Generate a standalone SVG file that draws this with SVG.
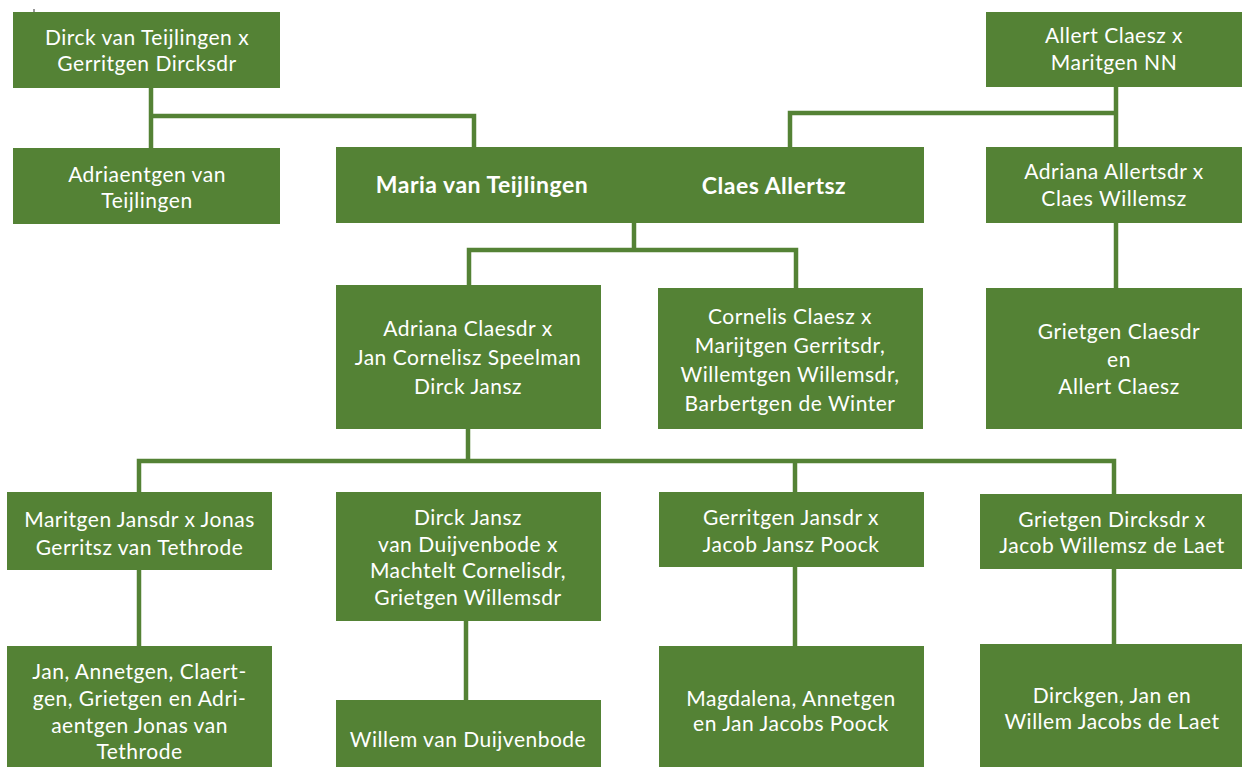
<svg xmlns="http://www.w3.org/2000/svg" width="1247" height="767" viewBox="0 0 1247 767">
  <style>
    .box { fill: #548235; }
    .t { font-family: Lato, "Open Sans", "Liberation Sans", sans-serif; font-size: 21px; letter-spacing: 0.5px; fill: #ffffff; text-anchor: middle; }
    .b { font-weight: bold; font-size: 23px; }
    .c { fill: none; stroke: #548235; stroke-width: 4.5; }
  </style>
  <rect width="1247" height="767" fill="#ffffff"/>
  <line x1="34" y1="9" x2="34" y2="14" stroke="#333" stroke-width="1"/>

  <g id="connectors">
    <path class="c" d="M151 88 V149 M151 116 H474 V147"/>
    <path class="c" d="M1116 87 V147 M1116 113 H790 V147"/>
    <path class="c" d="M634 223 V250 M469 285 V250 H796 V288"/>
    <path class="c" d="M1116 223 V288"/>
    <path class="c" d="M468 429 V461 M139 492 V461 H1114 V494 M795 461 V492"/>
    <path class="c" d="M139 570 V646"/>
    <path class="c" d="M466 621 V700"/>
    <path class="c" d="M795 567 V646"/>
    <path class="c" d="M1114 569 V644"/>
  </g>

  <g id="dirck-gerritgen">
    <rect class="box" x="13" y="12" width="267" height="76"/>
    <text class="t" x="147" y="45">Dirck van Teijlingen x</text>
    <text class="t" x="147" y="71">Gerritgen Dircksdr</text>
  </g>
  <g id="adriaentgen">
    <rect class="box" x="13" y="148" width="267" height="76"/>
    <text class="t" x="147" y="182">Adriaentgen van</text>
    <text class="t" x="147" y="208">Teijlingen</text>
  </g>
  <g id="maria">
    <rect class="box" x="336" y="147" width="293" height="76"/>
    <text class="t b" x="482" y="193">Maria van Teijlingen</text>
  </g>
  <g id="claes">
    <rect class="box" x="628" y="147" width="296" height="76"/>
    <text class="t b" x="774" y="194">Claes Allertsz</text>
  </g>
  <g id="allert-maritgen">
    <rect class="box" x="986" y="12" width="256" height="75"/>
    <text class="t" x="1114" y="43">Allert Claesz x</text>
    <text class="t" x="1114" y="70">Maritgen NN</text>
  </g>
  <g id="adriana-allertsdr">
    <rect class="box" x="986" y="147" width="256" height="76"/>
    <text class="t" x="1114" y="179">Adriana Allertsdr x</text>
    <text class="t" x="1114" y="206">Claes Willemsz</text>
  </g>
  <g id="adriana-claesdr">
    <rect class="box" x="336" y="285" width="265" height="144"/>
    <text class="t" x="468" y="336">Adriana Claesdr x</text>
    <text class="t" x="468" y="365">Jan Cornelisz Speelman</text>
    <text class="t" x="468" y="394">Dirck Jansz</text>
  </g>
  <g id="cornelis">
    <rect class="box" x="658" y="288" width="265" height="141"/>
    <text class="t" x="790" y="324">Cornelis Claesz x</text>
    <text class="t" x="790" y="353">Marijtgen Gerritsdr,</text>
    <text class="t" x="790" y="382">Willemtgen Willemsdr,</text>
    <text class="t" x="790" y="411">Barbertgen de Winter</text>
  </g>
  <g id="grietgen-claesdr">
    <rect class="box" x="986" y="288" width="256" height="141"/>
    <text class="t" x="1119" y="339">Grietgen Claesdr</text>
    <text class="t" x="1119" y="367">en</text>
    <text class="t" x="1119" y="394">Allert Claesz</text>
  </g>
  <g id="maritgen-jansdr">
    <rect class="box" x="7" y="492" width="265" height="78"/>
    <text class="t" x="139.5" y="527">Maritgen Jansdr x Jonas</text>
    <text class="t" x="139.5" y="555">Gerritsz van Tethrode</text>
  </g>
  <g id="dirck-jansz">
    <rect class="box" x="336" y="492" width="265" height="129"/>
    <text class="t" x="468" y="525">Dirck Jansz</text>
    <text class="t" x="468" y="552">van Duijvenbode x</text>
    <text class="t" x="468" y="578">Machtelt Cornelisdr,</text>
    <text class="t" x="468" y="605">Grietgen Willemsdr</text>
  </g>
  <g id="gerritgen-jansdr">
    <rect class="box" x="659" y="492" width="265" height="75"/>
    <text class="t" x="791" y="525">Gerritgen Jansdr x</text>
    <text class="t" x="791" y="552">Jacob Jansz Poock</text>
  </g>
  <g id="grietgen-dircksdr">
    <rect class="box" x="980" y="494" width="262" height="75"/>
    <text class="t" x="1112" y="527">Grietgen Dircksdr x</text>
    <text class="t" x="1112" y="553">Jacob Willemsz de Laet</text>
  </g>
  <g id="tethrode-children">
    <rect class="box" x="7" y="646" width="265" height="121"/>
    <text class="t" x="139.5" y="679">Jan, Annetgen, Claert-</text>
    <text class="t" x="139.5" y="706">gen, Grietgen en Adri-</text>
    <text class="t" x="139.5" y="733">aentgen Jonas van</text>
    <text class="t" x="139.5" y="759">Tethrode</text>
  </g>
  <g id="willem">
    <rect class="box" x="336" y="700" width="265" height="67"/>
    <text class="t" x="468" y="747">Willem van Duijvenbode</text>
  </g>
  <g id="poock-children">
    <rect class="box" x="659" y="646" width="265" height="121"/>
    <text class="t" x="791" y="706">Magdalena, Annetgen</text>
    <text class="t" x="791" y="731">en Jan Jacobs Poock</text>
  </g>
  <g id="laet-children">
    <rect class="box" x="980" y="644" width="262" height="123"/>
    <text class="t" x="1112" y="703">Dirckgen, Jan en</text>
    <text class="t" x="1112" y="729">Willem Jacobs de Laet</text>
  </g>
</svg>
